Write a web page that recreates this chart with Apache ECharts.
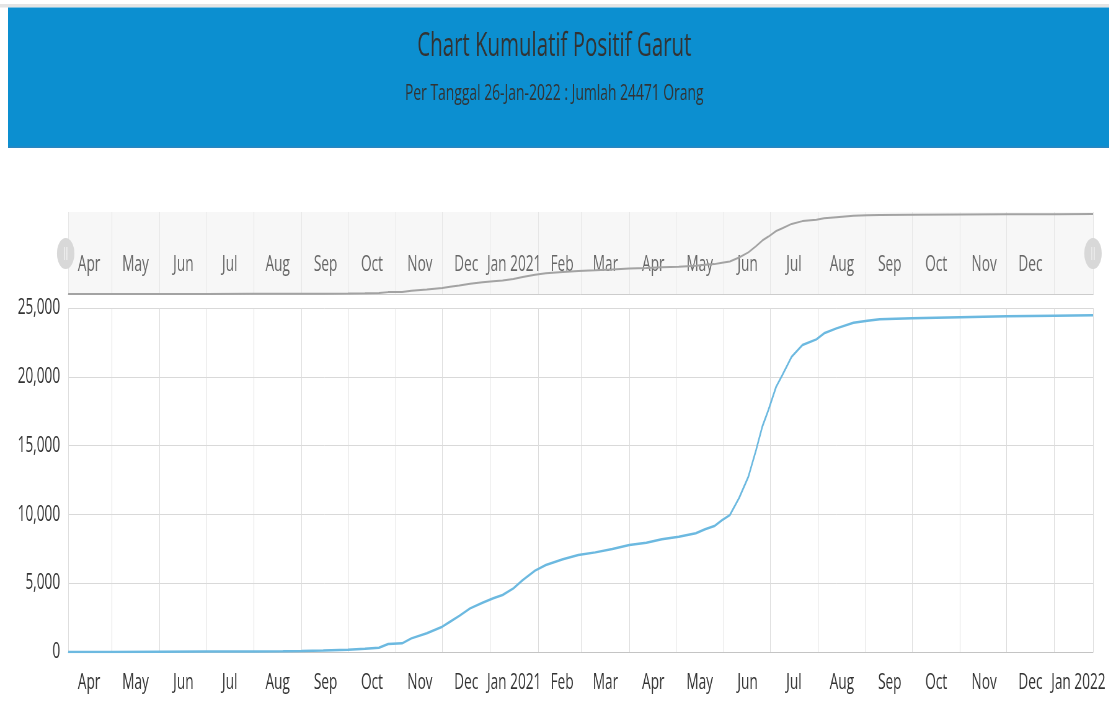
<!DOCTYPE html>
<html>
<head>
<meta charset="utf-8">
<title>Chart Kumulatif Positif Garut</title>
<script src="https://cdn.jsdelivr.net/npm/echarts@6/dist/echarts.min.js"></script>
<style>
  html, body { margin: 0; padding: 0; background: #fff; overflow: hidden; }
  /* the original page is squeezed sideways, so draw wide and squeeze it */
  #chart { width: 1789px; height: 703px; transform: scaleX(0.62); transform-origin: 0 0; }
</style>
</head>
<body>
<div id="chart"></div>
<script>
const dates = [
  '2020-04-03', '2020-05-01', '2020-06-01', '2020-07-01', '2020-08-01', '2020-08-20',
  '2020-09-01', '2020-09-15', '2020-10-01', '2020-10-12', '2020-10-21', '2020-10-27',
  '2020-11-05', '2020-11-11', '2020-11-21', '2020-12-01', '2020-12-06', '2020-12-12',
  '2020-12-19', '2020-12-27', '2021-01-03', '2021-01-09', '2021-01-16', '2021-01-22',
  '2021-01-30', '2021-02-06', '2021-02-17', '2021-02-27', '2021-03-10', '2021-03-21',
  '2021-04-01', '2021-04-12', '2021-04-22', '2021-05-03', '2021-05-14', '2021-05-20',
  '2021-05-26', '2021-05-31', '2021-06-05', '2021-06-11', '2021-06-17', '2021-06-22',
  '2021-06-26', '2021-06-30', '2021-07-05', '2021-07-09', '2021-07-15', '2021-07-22',
  '2021-07-31', '2021-08-05', '2021-08-13', '2021-08-24', '2021-09-02', '2021-09-10',
  '2021-10-01', '2021-11-01', '2021-12-01', '2022-01-01', '2022-01-26'
];
const cases = [
  2, 8, 18, 30, 45, 60,
  75, 100, 160, 230, 310, 580,
  630, 990, 1360, 1840, 2200, 2620,
  3170, 3580, 3900, 4140, 4630, 5230,
  5910, 6320, 6740, 7050, 7240, 7490,
  7780, 7940, 8190, 8380, 8630, 8920,
  9150, 9590, 9950, 11190, 12740, 14680,
  16370, 17590, 19280, 20130, 21460, 22310,
  22720, 23160, 23520, 23930, 24070, 24180,
  24260, 24330, 24400, 24440, 24471
];
const monthNames = ['Jan', 'Feb', 'Mar', 'Apr', 'May', 'Jun', 'Jul', 'Aug', 'Sep', 'Oct', 'Nov', 'Dec'];
const axisStart = '2020-04-03';
const axisEnd = '2022-01-26';

const DAY = 24 * 3600 * 1000;
const HALF_MONTH = 15.5 * DAY;
const tMin = echarts.time.parse(axisStart).getTime();
const tMax = echarts.time.parse(axisEnd).getTime();
const font = 'Open Sans';

const seriesData = dates.map((d, i) => [d, cases[i]]);

function monthLabel(val) {
  const d = new Date(val);
  const m = d.getMonth();
  return m === 0 ? 'Jan ' + d.getFullYear() : monthNames[m];
}

// grid lines sit on month starts, labels sit mid-month: a second axis shifted by half a month
function gridAxis(gridIndex, lineColor) {
  return {
    type: 'time', gridIndex, position: 'bottom', min: tMin, max: tMax,
    minInterval: 28 * DAY, maxInterval: 31 * DAY,
    axisLine: { show: true, lineStyle: { color: lineColor, width: 1 } },
    axisTick: { show: false },
    axisLabel: { show: false },
    splitLine: { show: true, lineStyle: { color: gridIndex === 0 ? '#dcdcdc' : '#e6e6e6' } }
  };
}
function labelAxis(gridIndex, label) {
  return {
    type: 'time', gridIndex, position: 'bottom', min: tMin - HALF_MONTH, max: tMax - HALF_MONTH,
    minInterval: 28 * DAY, maxInterval: 31 * DAY,
    axisLine: { show: false }, axisTick: { show: false }, splitLine: { show: false },
    axisLabel: Object.assign({ fontFamily: font, fontSize: 22, hideOverlap: false }, label)
  };
}

const chart = echarts.init(document.getElementById('chart'));

chart.setOption({
  animation: false,
  backgroundColor: '#fff',
  graphic: [
    { type: 'rect', left: 0, top: 4, shape: { width: 1789, height: 3.5 }, style: { fill: '#e4e4e4' }, z: -1 },
    { type: 'rect', left: 13, top: 7.5, shape: { width: 1776, height: 140.5 }, style: { fill: '#0c8fd0' }, z: -1 },
    { type: 'rect', left: 13, top: 146.5, shape: { width: 1776, height: 1.5 }, style: { fill: '#2a86c0' }, z: -1 }
  ],
  title: {
    text: 'Chart Kumulatif Positif Garut',
    subtext: 'Per Tanggal 26-Jan-2022 : Jumlah 24471 Orang',
    left: 889, textAlign: 'center', top: 25, itemGap: 20,
    textStyle: { fontFamily: font, fontSize: 33, fontWeight: 'normal', color: '#333' },
    subtextStyle: { fontFamily: font, fontSize: 22.4, color: '#333' }
  },
  grid: [
    { left: 110, right: 26, top: 308, bottom: 51, outerBoundsMode: 'none' },
    { left: 110, right: 26, top: 212, height: 83, show: true, backgroundColor: '#f7f7f7', borderWidth: 0, outerBoundsMode: 'none' }
  ],
  xAxis: [
    gridAxis(0, '#c4c4c4'),
    labelAxis(0, { color: '#333', margin: 20, formatter: monthLabel }),
    gridAxis(1, '#cccccc'),
    labelAxis(1, {
      color: '#666', inside: true, margin: 19,
      formatter: v => new Date(v).getFullYear() > 2021 ? '' : monthLabel(v)
    })
  ],
  yAxis: [
    {
      type: 'value', gridIndex: 0, min: 0, max: 25000, interval: 5000,
      axisLine: { show: false }, axisTick: { show: false },
      axisLabel: { fontFamily: font, fontSize: 22, color: '#333', margin: 13, formatter: v => v.toLocaleString('en-US') },
      splitLine: { lineStyle: { color: '#d9d9d9' } }
    },
    { type: 'value', gridIndex: 1, min: -300, max: 25100, show: false }
  ],
  dataZoom: [{
    type: 'slider', xAxisIndex: [0, 1], filterMode: 'none', start: 0, end: 100,
    left: 104, right: 26, top: 212, height: 83,
    backgroundColor: 'rgba(0,0,0,0)', borderColor: 'rgba(0,0,0,0)', fillerColor: 'rgba(0,0,0,0)',
    showDataShadow: false, showDetail: false, brushSelect: false, moveHandleSize: 0,
    handleIcon: 'path://M0,15.5A14,15.5,0,1,1,28,15.5A14,15.5,0,1,1,0,15.5ZM11.5,9L11.5,22L12.5,22L12.5,9ZM15.5,9L15.5,22L16.5,22L16.5,9Z',
    handleSize: 31,
    handleStyle: { color: '#d8d8d8', borderWidth: 0 },
    emphasis: { handleStyle: { color: '#cfcfcf', borderWidth: 0 } }
  }],
  series: [
    {
      name: 'Kumulatif Positif', type: 'line', xAxisIndex: 0, yAxisIndex: 0,
      data: seriesData, showSymbol: false,
      lineStyle: { color: '#6cb9e0', width: 2.5 }, itemStyle: { color: '#6cb9e0' }
    },
    {
      name: 'Navigator', type: 'line', xAxisIndex: 2, yAxisIndex: 1,
      data: seriesData, showSymbol: false, silent: true,
      lineStyle: { color: '#a3a3a3', width: 2 }, itemStyle: { color: '#a3a3a3' }
    }
  ]
});
</script>
</body>
</html>
